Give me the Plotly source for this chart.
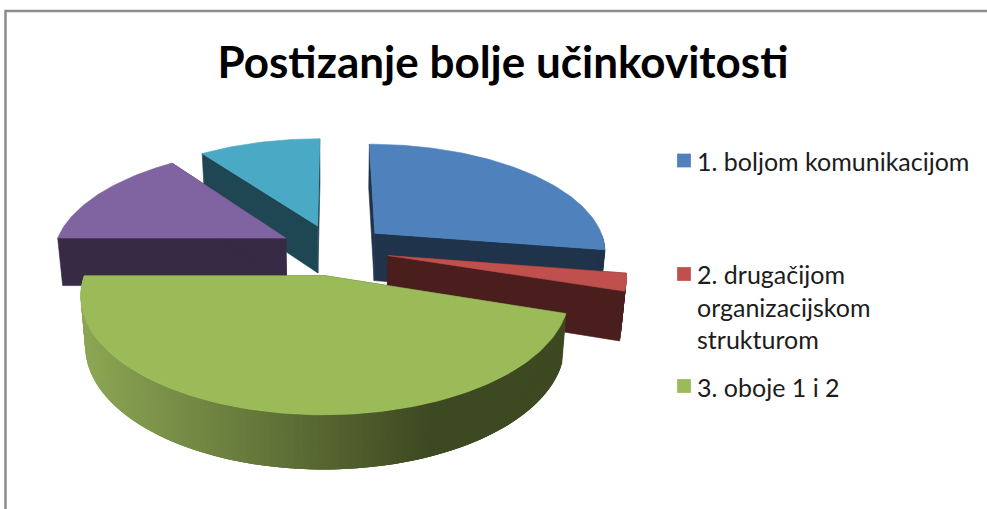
import math
import plotly.graph_objects as go

# ---- data ----
categories = ["1. boljom komunikacijom", "2. drugačijom organizacijskom strukturom", "3. oboje 1 i 2", "4.", "5."]
values = [27.5, 2.5, 45.0, 15.0, 10.0]
top_colors = ["#4f81bd", "#c0504d", "#9bbb59", "#8064a2", "#4aa9c4"]
wall_colors = ["#1f334b", "#4b1e1e", "#3f4a22", "#362a44", "#1f4753"]
title_text = "Postizanje bolje učinkovitosti"
legend_lines = ["1. boljom komunikacijom", "2. drugačijom<br>organizacijskom<br>strukturom", "3. oboje 1 i 2"]

# ---- 3D pie projection constants ----
CX, CY = 334.0, 249.5
S = 0.465          # vertical squash
K = 0.00068        # perspective strength
R = 232.0          # radius
EXPLODE = 55.0
H = 48.0           # slice thickness
SHRINK = 0.018
DRAW_ORDER = [4, 3, 0, 1, 2]
GRAD_LEFT, GRAD_RIGHT = (140, 166, 83), (61, 73, 33)
GRAD_X0, GRAD_X1 = 85.0, 430.0


def proj(a, b, low=False):
    p = 1.0 / (1.0 - K * b)
    x = CX + a * p
    y = CY + b * S * p
    if low:
        x = CX + (x - CX) * (1 - SHRINK)
        y += H * p ** 0.6
    return x, y


def rim(ox, oy, deg):
    t = math.radians(deg)
    return ox + R * math.sin(t), oy - R * math.cos(t)


fig = go.Figure()


def poly(pts, color, name, line=0.6):
    xs = [q[0] for q in pts] + [pts[0][0]]
    ys = [q[1] for q in pts] + [pts[0][1]]
    fig.add_trace(go.Scatter(x=xs, y=ys, mode="lines", fill="toself", fillcolor=color,
                             line=dict(color=color, width=line), name=name,
                             showlegend=False, hoverinfo="skip"))


total = sum(values)
bounds = [0.0]
for v in values:
    bounds.append(bounds[-1] + v / total * 360.0)

for i in DRAW_ORDER:
    start, end = bounds[i], bounds[i + 1]
    mid = math.radians((start + end) / 2)
    ox, oy = EXPLODE * math.sin(mid), -EXPLODE * math.cos(mid)
    n = max(4, int((end - start) * 1.0))
    angles = [start + (end - start) * k / n for k in range(n + 1)]
    name = categories[i]
    # cut faces
    for edge in (start, end):
        e = rim(ox, oy, edge)
        poly([proj(ox, oy), proj(*e), proj(*e, low=True), proj(ox, oy, low=True)], wall_colors[i], name)
    # outer wall, front-facing part only; each band overlaps the next so no seams show
    for k in range(n):
        a0, a1 = angles[k], angles[k + 1]
        if not (90 <= (a0 + a1) / 2 <= 270):
            continue
        a2 = angles[min(k + 3, n)]
        sweep = [a0 + (a2 - a0) * j / 4 for j in range(5)]
        upper = [proj(*rim(ox, oy, a)) for a in sweep]
        lower = [proj(*rim(ox, oy, a), low=True) for a in reversed(sweep)]
        color = wall_colors[i]
        if i == 2:
            r0, r1 = rim(ox, oy, a0), rim(ox, oy, a1)
            xm = (proj(*r0)[0] + proj(*r1)[0]) / 2
            f = min(1.0, max(0.0, (xm - GRAD_X0) / (GRAD_X1 - GRAD_X0)))
            rgb = [round(GRAD_LEFT[c] + (GRAD_RIGHT[c] - GRAD_LEFT[c]) * f) for c in range(3)]
            color = "rgb(%d,%d,%d)" % tuple(rgb)
        poly(upper + lower, color, name, line=0)
    # top surface
    poly([proj(ox, oy)] + [proj(*rim(ox, oy, a)) for a in angles], top_colors[i], name)

# legend swatches and labels
SW_X = 684
SW_Y = [160.5, 274, 386]
LABEL_Y = [161, 306, 387]
for i in range(3):
    fig.add_trace(go.Scatter(x=[SW_X], y=[SW_Y[i]], mode="markers", name=categories[i],
                             marker=dict(symbol="square", size=14, color=top_colors[i],
                                         line=dict(color="rgba(255,255,255,0.5)", width=0.5)),
                             showlegend=False, hoverinfo="skip"))

annotations = [dict(x=695, y=LABEL_Y[i], text=legend_lines[i], xref="x", yref="y", showarrow=False,
                    xanchor="left", yanchor="middle", align="left",
                    font=dict(family="Lato", size=25, color="#1c1c1c"))
               for i in range(3)]

fig.update_layout(
    width=987, height=509, margin=dict(l=0, r=0, t=0, b=0, pad=0),
    paper_bgcolor="white", plot_bgcolor="white", showlegend=False,
    title=dict(text="<b>" + title_text + "</b>", x=503 / 987, xanchor="center", xref="paper",
               y=1 - 63 / 509, yanchor="middle", yref="container",
               font=dict(family="Lato", size=44, color="black")),
    xaxis=dict(range=[0, 987], visible=False, fixedrange=True),
    yaxis=dict(range=[509, 0], visible=False, fixedrange=True),
    annotations=annotations,
    shapes=[dict(type="rect", xref="x", yref="y", x0=5.5, y0=11, x1=1000, y1=520,
                 line=dict(color="#8c8c8c", width=2.5), layer="below")],
)

fig.write_html("out.html", config=dict(displayModeBar=False),
               post_script="document.body.style.margin='0';document.body.style.overflow='hidden';"
                           "var s=document.createElement('style');s.textContent='text{font-variant-ligatures:none}';"
                           "document.head.appendChild(s);")
